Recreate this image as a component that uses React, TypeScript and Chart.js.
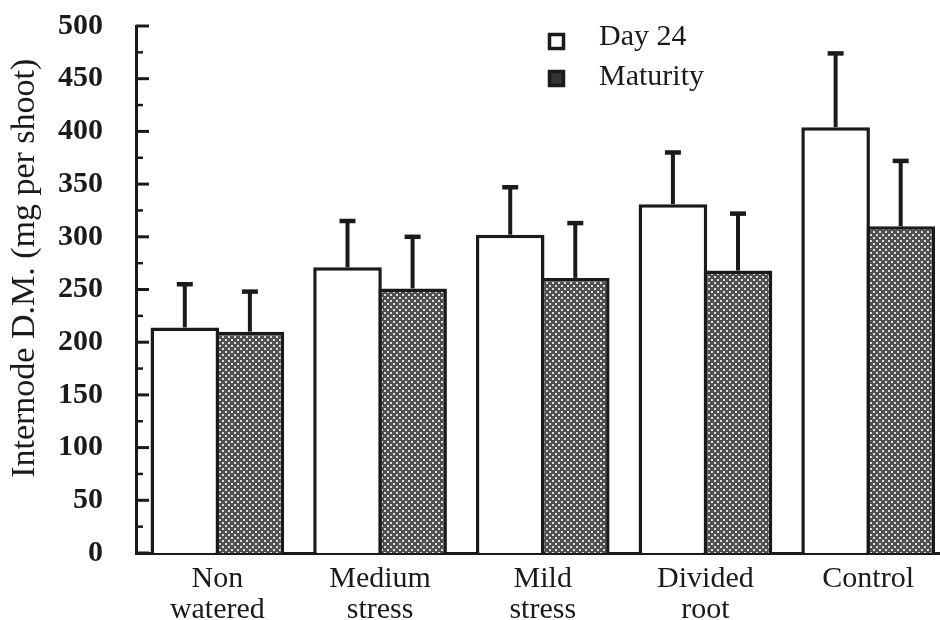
import React, { useEffect, useRef } from "react";
import { Chart, registerables } from "chart.js";

Chart.register(...registerables);

// ---- data ----
const categories: string[][] = [
  ["Non", "watered"],
  ["Medium", "stress"],
  ["Mild", "stress"],
  ["Divided", "root"],
  ["Control"],
];
const seriesLabels = ["Day 24", "Maturity"];
const day24Values = [214, 271, 302, 331, 404];
const day24Errors = [41, 44, 45, 49, 70];
const maturityValues = [210, 251, 261, 268, 310];
const maturityErrors = [38, 49, 52, 54, 62];
const yTitle = "Internode D.M. (mg per shoot)";
const yMin = 0;
const yMax = 500;
const yStep = 50;

const FONT = "'Liberation Serif', 'Times New Roman', serif";
const INK = "#1a1a1a";

function makePattern(): CanvasPattern | string {
  const c = document.createElement("canvas");
  c.width = 6;
  c.height = 6;
  const g = c.getContext("2d");
  if (!g) return "#777";
  g.fillStyle = "#505050";
  g.fillRect(0, 0, 6, 6);
  g.fillStyle = "#dcdcdc";
  g.fillRect(0, 0, 2, 2);
  g.fillRect(3, 3, 2, 2);
  const p = g.createPattern(c, "repeat");
  return p || "#777";
}

const errorBarsPlugin = {
  id: "errorBars",
  afterDatasetsDraw(chart: any) {
    const ctx = chart.ctx as CanvasRenderingContext2D;
    const y = chart.scales.y;
    chart.data.datasets.forEach((ds: any, di: number) => {
      const meta = chart.getDatasetMeta(di);
      meta.data.forEach((el: any, i: number) => {
        const v = ds.data[i] as number;
        const e = ds.errors[i] as number;
        const top = y.getPixelForValue(v + e);
        ctx.save();
        ctx.strokeStyle = INK;
        ctx.lineWidth = 4;
        ctx.beginPath();
        ctx.moveTo(el.x, el.y);
        ctx.lineTo(el.x, top);
        ctx.stroke();
        ctx.lineWidth = 4.5;
        ctx.beginPath();
        ctx.moveTo(el.x - 8, top);
        ctx.lineTo(el.x + 8, top);
        ctx.stroke();
        ctx.restore();
      });
    });
  },
};

const innerTicksPlugin = {
  id: "innerTicks",
  afterDraw(chart: any) {
    const ctx = chart.ctx as CanvasRenderingContext2D;
    const y = chart.scales.y;
    const x0 = chart.chartArea.left;
    const ticks = y.ticks as { value: number }[];
    ctx.save();
    ctx.strokeStyle = INK;
    ticks.forEach((t, i) => {
      const py = y.getPixelForValue(t.value);
      ctx.lineWidth = 3;
      ctx.beginPath();
      ctx.moveTo(x0, py);
      ctx.lineTo(x0 + 13, py);
      ctx.stroke();
      if (i < ticks.length - 1) {
        const mid = (t.value + ticks[i + 1].value) / 2;
        const pm = y.getPixelForValue(mid);
        ctx.lineWidth = 2.5;
        ctx.beginPath();
        ctx.moveTo(x0, pm);
        ctx.lineTo(x0 + 7, pm);
        ctx.stroke();
      }
    });
    ctx.restore();
  },
};

const legendPlugin = {
  id: "insideLegend",
  afterDraw(chart: any) {
    const ctx = chart.ctx as CanvasRenderingContext2D;
    const dss = chart.data.datasets;
    ctx.save();
    dss.forEach((ds: any, i: number) => {
      const bx = 549.5;
      const by = 34.5 + i * 37;
      ctx.fillStyle = ds.legendFill;
      ctx.fillRect(bx, by, 14, 14);
      ctx.strokeStyle = INK;
      ctx.lineWidth = 3.5;
      ctx.strokeRect(bx, by, 14, 14);
      ctx.fillStyle = INK;
      ctx.font = `30px ${FONT}`;
      ctx.textAlign = "left";
      ctx.textBaseline = "alphabetic";
      ctx.fillText(ds.label, 599, 45 + i * 40);
    });
    ctx.restore();
  },
};

export default function App() {
  const ref = useRef<HTMLCanvasElement>(null);

  useEffect(() => {
    const canvas = ref.current;
    if (!canvas) return;
    const pattern = makePattern();
    const chart = new Chart(canvas, {
      type: "bar",
      data: {
        labels: categories,
        datasets: [
          {
            label: seriesLabels[0],
            data: day24Values,
            errors: day24Errors,
            backgroundColor: "#ffffff",
            legendFill: "#ffffff",
            borderColor: INK,
            borderWidth: 3.5,
            barPercentage: 1.054,
            categoryPercentage: 0.8,
          } as any,
          {
            label: seriesLabels[1],
            data: maturityValues,
            errors: maturityErrors,
            backgroundColor: pattern,
            legendFill: "#333333",
            borderColor: INK,
            borderWidth: 3.5,
            barPercentage: 1.054,
            categoryPercentage: 0.8,
          } as any,
        ],
      },
      options: {
        responsive: false,
        animation: false,
        devicePixelRatio: 1,
        layout: { autoPadding: false, padding: { left: 0, top: 26, right: 2.5, bottom: 0 } },
        plugins: {
          legend: { display: false },
          tooltip: { enabled: false },
        },
        scales: {
          x: {
            type: "category",
            offset: true,
            grid: { display: false, drawTicks: false },
            border: { display: true, width: 3, color: INK },
            ticks: {
              color: INK,
              font: { family: FONT, size: 30, lineHeight: 1.05 },
              padding: 10,
              maxRotation: 0,
              autoSkip: false,
            },
            afterFit: (s: any) => {
              s.height = 67;
            },
          },
          y: {
            min: yMin,
            max: yMax,
            grid: { display: false, drawTicks: true, tickLength: 33 },
            border: { display: true, width: 3, color: INK },
            ticks: {
              stepSize: yStep,
              color: INK,
              font: { family: FONT, size: 30, weight: "bold" },
              padding: 0,
            },
            title: {
              display: true,
              text: " ".repeat(5) + yTitle,
              color: INK,
              font: { family: FONT, size: 34 },
              padding: { top: 5, bottom: 0 },
            },
            afterFit: (s: any) => {
              s.width = 136;
            },
          },
        },
      } as any,
      plugins: [errorBarsPlugin, innerTicksPlugin, legendPlugin],
    });
    return () => chart.destroy();
  }, []);

  return (
    <div
      style={{
        position: "fixed",
        left: 0,
        top: 0,
        width: 940,
        height: 620,
        overflow: "hidden",
        background: "#ffffff",
      }}
    >
      <canvas ref={ref} width={952} height={620} style={{ display: "block", width: 952, height: 620 }} />
    </div>
  );
}
